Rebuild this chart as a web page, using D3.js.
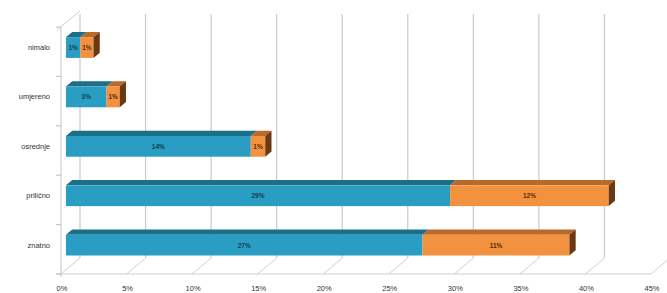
<!DOCTYPE html>
<meta charset="utf-8">
<style type="text/css">
body { margin: 0; background: #ffffff; font-family: 'Liberation Sans', Arial, sans-serif; }
.cat { font-size: 7.5px; fill: #333; text-anchor: end; }
.tick-label { font-size: 7.5px; fill: #333; text-anchor: middle; }
.val { font-size: 6.5px; font-weight: bold; text-anchor: middle; }
</style>
<head>
  <script src="https://cdnjs.cloudflare.com/ajax/libs/d3/7.8.5/d3.min.js"></script>
</head>
<body>
<div class="g-chart"></div>
<script type="text/javascript">

// data
var categories = ["nimalo", "umjereno", "osrednje", "prilično", "znatno"];
var blueValues = [1.1, 3.1, 14.1, 29.3, 27.2];
var orangeValues = [1.0, 1.0, 1.1, 12.1, 11.2];
var tickValues = [0, 5, 10, 15, 20, 25, 30, 35, 40, 45];

var width = 667, height = 293;
// note: "top" is taken by window.top, so plot edges get their own names
var plotLeft = 61, plotRight = 651, plotTop = 27, plotBottom = 274;
var depth = {dx: 19, dy: -16};     // depth of the whole 3D box
var barFront = 0.26, barDepth = 0.33; // where bars sit inside the depth

var svg = d3.select(".g-chart").append("svg")
  .attr("width", width)
  .attr("height", height);

var x = d3.scaleLinear().domain([0, 45]).range([plotLeft, plotRight]);
var y = d3.scaleBand().domain(categories).range([plotTop, plotBottom]).paddingInner(0.58).paddingOuter(0.29);
var yb = d3.scaleBand().domain(categories).range([plotTop, plotBottom]);

var grid = svg.append("g");

// back wall gridlines
grid.selectAll("line.back")
  .data(tickValues)
  .enter().append("line")
  .attr("x1", function(d) { return x(d) + depth.dx; })
  .attr("x2", function(d) { return x(d) + depth.dx; })
  .attr("y1", plotTop + depth.dy + 3)
  .attr("y2", plotBottom + depth.dy)
  .style("stroke", "#cacaca")
  .style("stroke-width", 1.2);

// floor diagonals
grid.selectAll("line.floor")
  .data(tickValues)
  .enter().append("line")
  .attr("x1", function(d) { return x(d); })
  .attr("y1", plotBottom)
  .attr("x2", function(d) { return x(d) + depth.dx; })
  .attr("y2", plotBottom + depth.dy)
  .style("stroke", "#dcc9c9")
  .style("stroke-width", 1);

// front baseline
grid.append("line")
  .attr("x1", plotLeft - 4).attr("x2", plotRight)
  .attr("y1", plotBottom).attr("y2", plotBottom)
  .style("stroke", "#cfcfcf");

// left wall
grid.append("line")
  .attr("x1", plotLeft).attr("x2", plotLeft)
  .attr("y1", plotTop).attr("y2", plotBottom + 3)
  .style("stroke", "#c4c4c4");
grid.append("line")
  .attr("x1", plotLeft - 4).attr("x2", plotLeft + depth.dx)
  .attr("y1", plotTop + 3).attr("y2", plotTop + depth.dy)
  .style("stroke", "#cfcfcf");

// category ticks
grid.selectAll("line.ytick")
  .data(categories.concat(["end"]))
  .enter().append("line")
  .attr("x1", plotLeft - 5).attr("x2", plotLeft)
  .attr("y1", function(d, i) { return plotTop + i * yb.step(); })
  .attr("y2", function(d, i) { return plotTop + i * yb.step(); })
  .style("stroke", "#bdbdbd");

// tick labels
svg.selectAll("text.tick-label")
  .data(tickValues)
  .enter().append("text")
  .attr("class", "tick-label")
  .attr("x", function(d) { return x(d) + 1; })
  .attr("y", 291)
  .text(function(d) { return d + "%"; });

// category labels
svg.selectAll("text.cat")
  .data(categories)
  .enter().append("text")
  .attr("class", "cat")
  .attr("x", 50)
  .attr("y", function(d) { return y(d) + y.bandwidth() / 2 + barFront * depth.dy + 2.5; })
  .text(function(d) { return d; });

// bars
var fx = barFront * depth.dx, fy = barFront * depth.dy;
var bx = barDepth * depth.dx, by = barDepth * depth.dy;

var segs = [];
categories.forEach(function(c, i) {
  segs.push({cat: c, x0: 0, x1: blueValues[i], v: blueValues[i], front: "#2a9ec2", topc: "#1b6f89", txt: "#123c55", last: false});
  segs.push({cat: c, x0: blueValues[i], x1: blueValues[i] + orangeValues[i], v: orangeValues[i], front: "#f2923f", topc: "#b9692a", txt: "#5a2c05", last: true});
});

var bars = svg.append("g");

function topFace(d) {
  var x0 = x(d.x0) + fx, x1 = x(d.x1) + fx, yt = y(d.cat) + fy;
  return [[x0, yt], [x1, yt], [x1 + bx, yt + by], [x0 + bx, yt + by]].join(" ");
}
function sideFace(d) {
  var x1 = x(d.x1) + fx, yt = y(d.cat) + fy, yB = yt + y.bandwidth();
  return [[x1, yt], [x1 + bx, yt + by], [x1 + bx, yB + by], [x1, yB]].join(" ");
}

bars.selectAll("polygon.top")
  .data(segs)
  .enter().append("polygon")
  .attr("points", topFace)
  .style("fill", function(d) { return d.topc; });

bars.selectAll("rect.front")
  .data(segs)
  .enter().append("rect")
  .attr("x", function(d) { return x(d.x0) + fx; })
  .attr("y", function(d) { return y(d.cat) + fy; })
  .attr("width", function(d) { return x(d.x1) - x(d.x0); })
  .attr("height", y.bandwidth())
  .style("fill", function(d) { return d.front; });

bars.selectAll("polygon.side")
  .data(segs.filter(function(d) { return d.last; }))
  .enter().append("polygon")
  .attr("points", sideFace)
  .style("fill", "#6b3812");

bars.selectAll("text.val")
  .data(segs)
  .enter().append("text")
  .attr("class", "val")
  .attr("x", function(d) { return (x(d.x0) + x(d.x1)) / 2 + fx; })
  .attr("y", function(d) { return y(d.cat) + fy + y.bandwidth() / 2 + 2.5; })
  .style("fill", function(d) { return d.txt; })
  .text(function(d) { return Math.round(d.v) + "%"; });

</script>
</body>
